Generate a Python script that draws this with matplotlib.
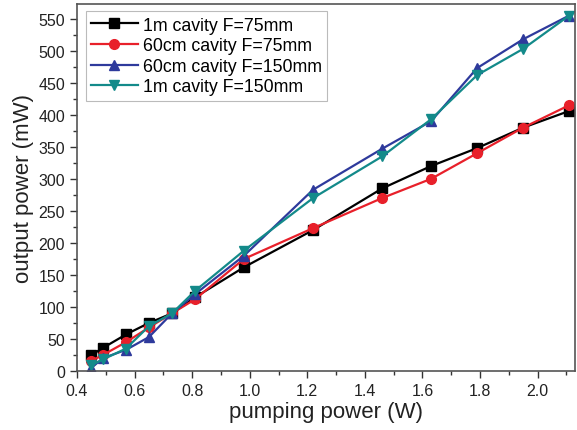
import matplotlib
matplotlib.use("Agg")
import matplotlib.pyplot as plt
from matplotlib.ticker import MultipleLocator

plt.rcParams['font.family'] = ['Liberation Sans', 'DejaVu Sans']

pump = [0.45, 0.49, 0.57, 0.65, 0.73, 0.81, 0.98, 1.22, 1.46, 1.63, 1.79, 1.95, 2.11]
black_1m_75 = [25, 36, 57, 75, 90, 115, 162, 220, 285, 320, 348, 380, 406]
red_60_75 = [16, 25, 45, 68, 90, 112, 175, 223, 270, 300, 340, 380, 415]
blue_60_150 = [5, 20, 33, 53, 90, 120, 180, 283, 347, 390, 473, 518, 555]
teal_1m_150 = [9, 18, 35, 70, 90, 125, 188, 270, 335, 393, 462, 503, 555]

labels = ["1m cavity F=75mm", "60cm cavity F=75mm", "60cm cavity F=150mm", "1m cavity F=150mm"]

fig = plt.figure(figsize=(5.77, 4.31), dpi=100)
ax = fig.add_axes([77/577, 59/431, (575-77)/577, (372-5)/431])

ax.plot(pump, black_1m_75, color='black', marker='s', ms=6.5, lw=1.6, label=labels[0])
ax.plot(pump, red_60_75, color='#e8202a', marker='o', ms=7, lw=1.6, label=labels[1])
ax.plot(pump, blue_60_150, color='#2e3a9c', marker='^', ms=7.5, lw=1.6, label=labels[2])
ax.plot(pump, teal_1m_150, color='#138a8a', marker='v', ms=7.5, lw=1.6, label=labels[3])

ax.set_xlim(0.4, 2.13)
ax.set_ylim(0, 573)
ax.xaxis.set_major_locator(MultipleLocator(0.2))
ax.xaxis.set_minor_locator(MultipleLocator(0.1))
ax.yaxis.set_major_locator(MultipleLocator(50))
ax.yaxis.set_minor_locator(MultipleLocator(25))
ax.xaxis.set_major_formatter(plt.FuncFormatter(lambda v, p: f"{v:.1f}"))
ax.tick_params(which='major', direction='out', length=5, width=1, labelsize=11.5, colors='#333333', labelcolor='#222222')
ax.tick_params(which='minor', direction='out', length=3, width=1, colors='#333333')
for s in ax.spines.values():
    s.set_color('#555555')
    s.set_linewidth(1.2)

ax.set_xlabel("pumping power (W)", fontsize=16, color='#222222', labelpad=2)
ax.set_ylabel("output power (mW)", fontsize=16, color='#222222', labelpad=3)

leg = ax.legend(loc='upper left', bbox_to_anchor=(0.018, 0.98), fontsize=12.8, handlelength=2.6,
                frameon=True, fancybox=False, edgecolor='#aaaaaa', borderpad=0.3,
                labelspacing=0.2, handletextpad=0.3, borderaxespad=0)
leg.get_frame().set_linewidth(0.8)

fig.savefig("out.png", dpi=100)
